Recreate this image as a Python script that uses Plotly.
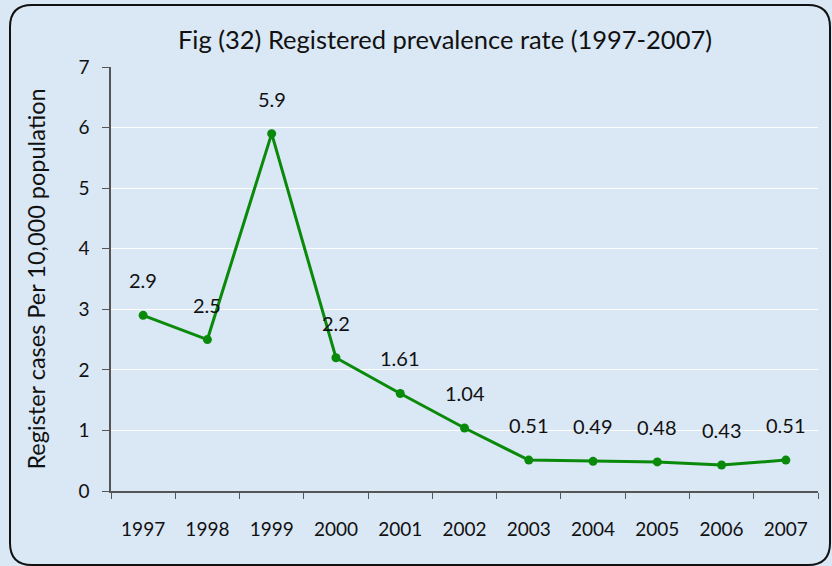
import plotly.graph_objects as go

years = ["1997", "1998", "1999", "2000", "2001", "2002", "2003", "2004", "2005", "2006", "2007"]
rates = [2.9, 2.5, 5.9, 2.2, 1.61, 1.04, 0.51, 0.49, 0.48, 0.43, 0.51]
labels = ["2.9", "2.5", "5.9", "2.2", "1.61", "1.04", "0.51", "0.49", "0.48", "0.43", "0.51"]

FONT = "Lato, 'Open Sans', sans-serif"
W, H = 832, 566
L, R, T, B = 111, 14, 67, 75
PW, PH = W - L - R, H - T - B

fig = go.Figure()
fig.add_trace(go.Scatter(
    x=years, y=rates, mode="lines+markers",
    line=dict(color="#0a8a0a", width=3),
    marker=dict(color="#0a8a0a", size=9),
    hoverinfo="skip", showlegend=False,
))
for i, (y, t) in enumerate(zip(rates, labels)):
    fig.add_annotation(x=i, y=y, text=t, showarrow=False, yshift=35,
                       font=dict(size=20, color="#111", family=FONT))

def px(xp):
    return (xp - L) / PW

def py(yp):
    return (H - B - yp) / PH

x0, x1, y0, y1, r = 10, 830, 5, 565, 22
path = (f"M {px(x0 + r)},{py(y0)} L {px(x1 - r)},{py(y0)} "
        f"Q {px(x1)},{py(y0)} {px(x1)},{py(y0 + r)} "
        f"L {px(x1)},{py(y1 - r)} Q {px(x1)},{py(y1)} {px(x1 - r)},{py(y1)} "
        f"L {px(x0 + r)},{py(y1)} Q {px(x0)},{py(y1)} {px(x0)},{py(y1 - r)} "
        f"L {px(x0)},{py(y0 + r)} Q {px(x0)},{py(y0)} {px(x0 + r)},{py(y0)} Z")

fig.update_layout(
    width=W, height=H,
    margin=dict(l=L, r=R, t=T, b=B),
    paper_bgcolor="#dae7f5",
    plot_bgcolor="rgba(0,0,0,0)",
    font=dict(family=FONT, color="#111"),
    title=dict(text="Fig (32) Registered prevalence rate (1997-2007)",
               x=(445 / W), xanchor="center", y=1 - 40 / H, yanchor="middle",
               font=dict(size=25.5, family=FONT, color="#111")),
    xaxis=dict(type="category", range=[-0.5, 10.5], showgrid=False,
               tickson="boundaries", ticks="outside", ticklen=6, tickcolor="#555",
               showline=True, linecolor="#555", linewidth=1.5,
               tickfont=dict(size=19, family=FONT), ticklabelstandoff=20),
    yaxis=dict(range=[0, 7], dtick=1, showgrid=True, gridcolor="#ffffff", gridwidth=1,
               ticks="outside", ticklen=7, tickcolor="#555",
               showline=True, linecolor="#555", linewidth=1.5, zeroline=False,
               tickfont=dict(size=19, family=FONT), ticklabelstandoff=9,
               title=dict(text="Register cases Per 10,000 population",
                          font=dict(size=23.5, family=FONT), standoff=26)),
    shapes=[dict(type="path", xref="paper", yref="paper", path=path,
                 line=dict(color="#111", width=2), layer="above")],
)
fig.write_html("out.html", config={"displayModeBar": False},
               post_script="document.body.style.margin='0';")
